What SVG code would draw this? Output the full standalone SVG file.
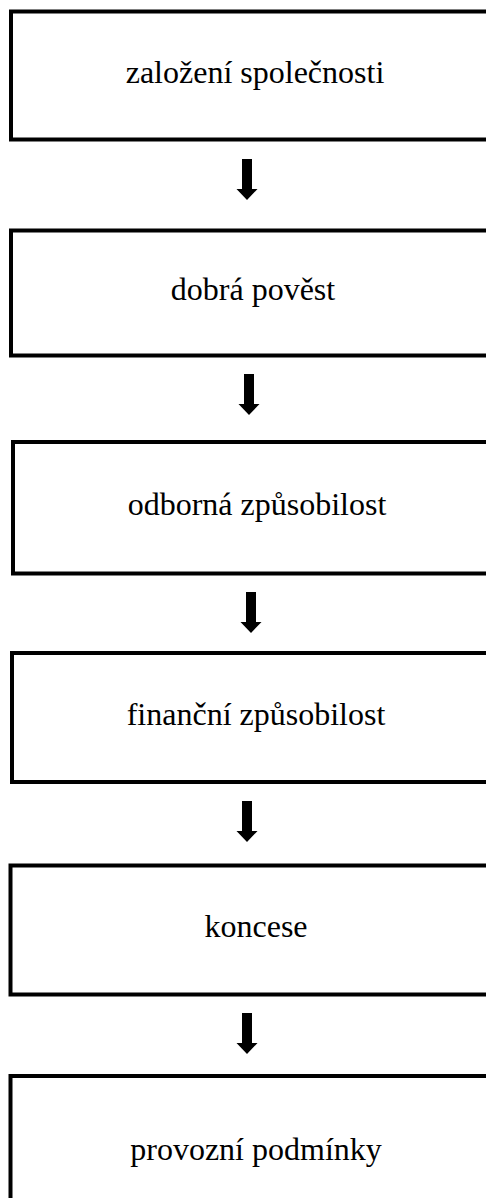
<svg xmlns="http://www.w3.org/2000/svg" xmlns:xlink="http://www.w3.org/1999/xlink" width="486" height="1198" viewBox="0 0 486 1198">
<style>
.box{fill:#fff;stroke:#000;stroke-width:4}
.lbl{font-family:"Liberation Serif","Times New Roman",serif;font-size:32px;fill:#000;text-anchor:middle}
.arr{fill:#000}
</style>
<defs>
<path id="arrow" d="M-5,0 H5 V30 H10.5 L0,41 L-10.5,30 H-5 Z"/>
</defs>
<rect width="486" height="1198" fill="#fff"/>
<g id="connectors">
<use xlink:href="#arrow" class="arr" x="247" y="159"/>
<use xlink:href="#arrow" class="arr" x="249" y="374"/>
<use xlink:href="#arrow" class="arr" x="251" y="592"/>
<use xlink:href="#arrow" class="arr" x="247" y="801"/>
<use xlink:href="#arrow" class="arr" x="247" y="1013"/>
</g>
<g id="n1"><rect class="box" x="11" y="11.5" width="500" height="128"/><text class="lbl" x="255" y="83">založení společnosti</text></g>
<g id="n2"><rect class="box" x="11" y="230.5" width="500" height="125"/><text class="lbl" x="253" y="300">dobrá pověst</text></g>
<g id="n3"><rect class="box" x="13" y="442" width="500" height="131.5"/><text class="lbl" x="257" y="515">odborná způsobilost</text></g>
<g id="n4"><rect class="box" x="12" y="653" width="500" height="129"/><text class="lbl" x="256" y="725">finanční způsobilost</text></g>
<g id="n5"><rect class="box" x="10.5" y="865.5" width="500" height="129"/><text class="lbl" x="256" y="937">koncese</text></g>
<g id="n6"><rect class="box" x="10.5" y="1076" width="500" height="200"/><text class="lbl" x="256" y="1160">provozní podmínky</text></g>
</svg>
